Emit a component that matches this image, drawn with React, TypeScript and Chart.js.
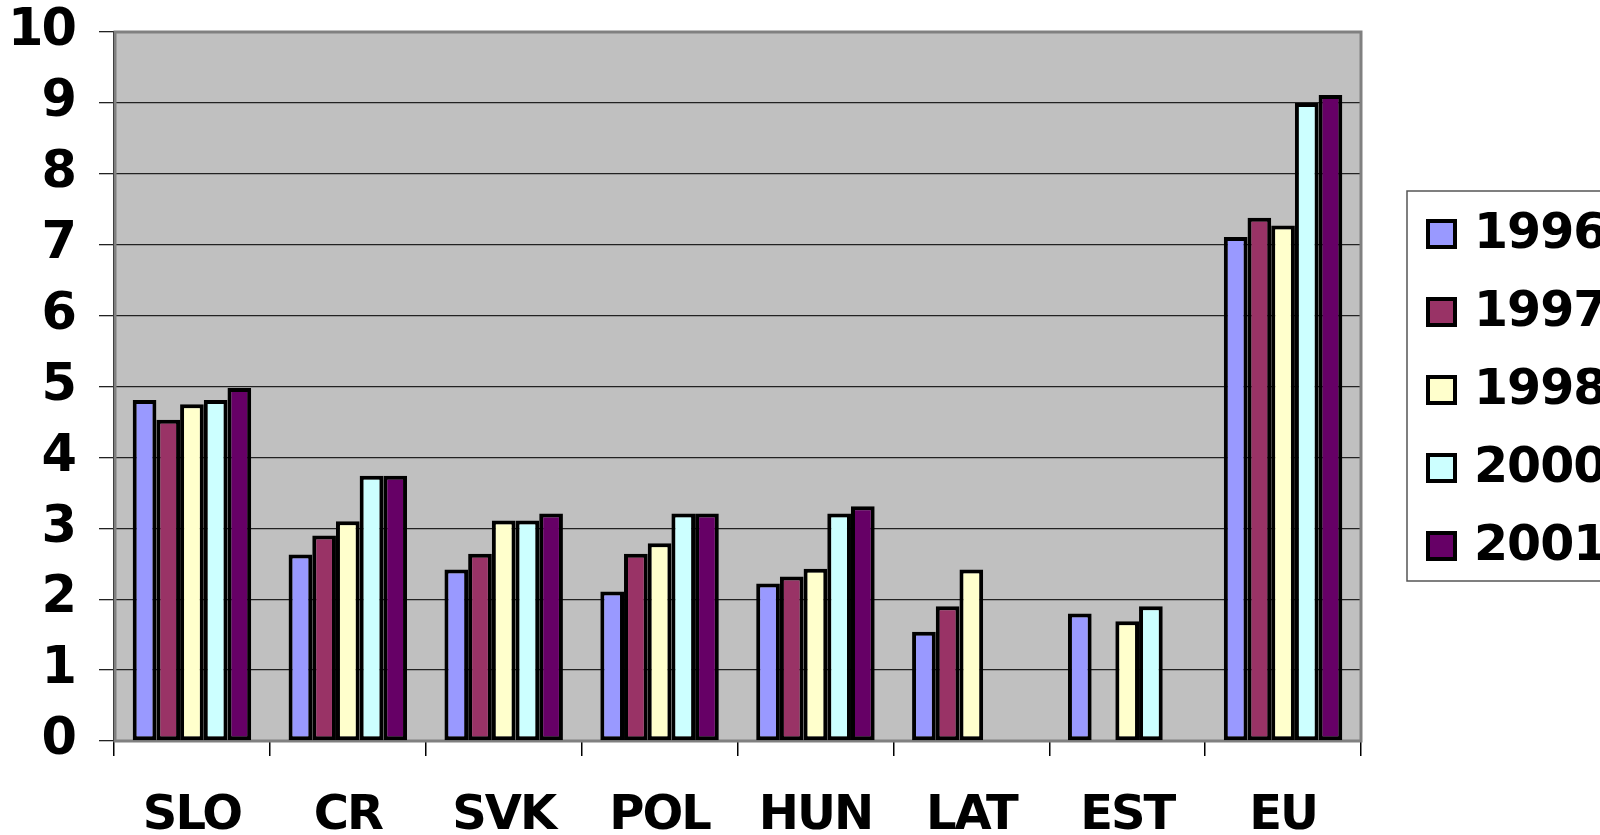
import React, { useEffect, useRef } from "react";
import { Chart, registerables } from "chart.js";

Chart.register(...registerables);

const categories = ["SLO", "CR", "SVK", "POL", "HUN", "LAT", "EST", "EU"];
const seriesNames = ["1996", "1997", "1998", "2000", "2001"];
const values1996 = [4.81, 2.63, 2.42, 2.11, 2.22, 1.54, 1.8, 7.11];
const values1997 = [4.53, 2.9, 2.64, 2.64, 2.32, 1.9, null, 7.38];
const values1998 = [4.75, 3.1, 3.11, 2.79, 2.43, 2.42, 1.69, 7.27];
const values2000 = [4.81, 3.74, 3.11, 3.21, 3.21, null, 1.9, 9.0];
const values2001 = [4.98, 3.74, 3.21, 3.21, 3.31, null, null, 9.11];
const seriesColors = ["#9999FF", "#993366", "#FFFFCC", "#CCFFFF", "#660066"];
const yTicks = [0, 1, 2, 3, 4, 5, 6, 7, 8, 9, 10];

const FONT = "'DejaVu Sans', Verdana, sans-serif";

const plotBg = {
  id: "plotBg",
  beforeDraw(chart: any) {
    const { ctx, chartArea: a } = chart;
    ctx.letterSpacing = "-2px";
    ctx.save();
    ctx.fillStyle = "#C0C0C0";
    ctx.fillRect(a.left, a.top, a.right - a.left, a.bottom - a.top);
    ctx.restore();
  },
  beforeDatasetsDraw(chart: any) {
    const { ctx, chartArea: a } = chart;
    ctx.save();
    ctx.strokeStyle = "#808080";
    ctx.lineWidth = 3;
    ctx.strokeRect(a.left + 1, a.top, a.right - a.left - 1, a.bottom - a.top);
    ctx.restore();
  },
};

const customLegend = {
  id: "customLegend",
  afterDraw(chart: any) {
    const { ctx } = chart;
    const boxX = 1407;
    const boxY = 191;
    const boxH = 390;
    ctx.save();
    ctx.fillStyle = "#FFFFFF";
    ctx.fillRect(boxX, boxY, 400, boxH);
    ctx.strokeStyle = "#555555";
    ctx.lineWidth = 1.5;
    ctx.strokeRect(boxX, boxY, 400, boxH);
    chart.data.datasets.forEach((ds: any, i: number) => {
      const cy = 234 + i * 78;
      ctx.fillStyle = "#000000";
      ctx.fillRect(1426, cy - 15, 31, 30);
      ctx.fillStyle = ds.backgroundColor;
      ctx.fillRect(1430, cy - 11, 23, 22);
      ctx.fillStyle = "#000000";
      ctx.font = "bold 49px " + FONT;
      ctx.textBaseline = "middle";
      ctx.textAlign = "left";
      ctx.letterSpacing = "-1px";
      ctx.fillText(ds.label, 1474, cy + 1);
    });
    ctx.restore();
  },
};

export default function App() {
  const ref = useRef<HTMLCanvasElement | null>(null);
  useEffect(() => {
    if (!ref.current) return;
    const allValues = [values1996, values1997, values1998, values2000, values2001];
    const chart = new Chart(ref.current, {
      type: "bar",
      data: {
        labels: categories,
        datasets: seriesNames.map((name, i) => ({
          label: name,
          data: allValues[i],
          backgroundColor: seriesColors[i],
          borderColor: "#000000",
          borderWidth: 4,
          borderSkipped: false,
          categoryPercentage: 0.76,
          barPercentage: 1.0,
        })),
      },
      options: {
        animation: false,
        responsive: true,
        maintainAspectRatio: false,
        layout: { padding: { top: 32, right: 239, left: 0, bottom: 0 } },
        plugins: {
          legend: { display: false },
          tooltip: { enabled: false },
        },
        scales: {
          x: {
            afterFit(scale: any) {
              scale.height = 94;
              scale.paddingLeft = 0;
              scale.paddingRight = 0;
            },
            grid: {
              offset: true,
              drawOnChartArea: false,
              drawTicks: true,
              tickLength: 15,
              color: "#000000",
              lineWidth: 1.5,
            },
            border: { display: true, color: "#000000", width: 1.5 },
            ticks: {
              color: "#000000",
              font: { family: FONT, size: 48, weight: "bold" },
              padding: 32,
              maxRotation: 0,
              autoSkip: false,
            },
          },
          y: {
            min: 0,
            max: 10,
            afterFit(scale: any) {
              scale.width = 114;
              scale.paddingTop = 0;
              scale.paddingBottom = 0;
            },
            afterBuildTicks(scale: any) {
              scale.ticks = yTicks.map((v) => ({ value: v }));
            },
            grid: {
              color: "#222222",
              lineWidth: 1.3,
              drawTicks: true,
              tickLength: 15,
            },
            border: { display: true, color: "#000000", width: 1.5 },
            ticks: {
              color: "#000000",
              font: { family: FONT, size: 51, weight: "bold" },
              padding: 24,
            },
          },
        },
      },
      plugins: [plotBg, customLegend],
    });
    return () => chart.destroy();
  }, []);
  return (
    <div style={{ position: "fixed", left: 0, top: 0, width: 1600, height: 835, background: "#FFFFFF" }}>
      <canvas ref={ref} />
    </div>
  );
}
